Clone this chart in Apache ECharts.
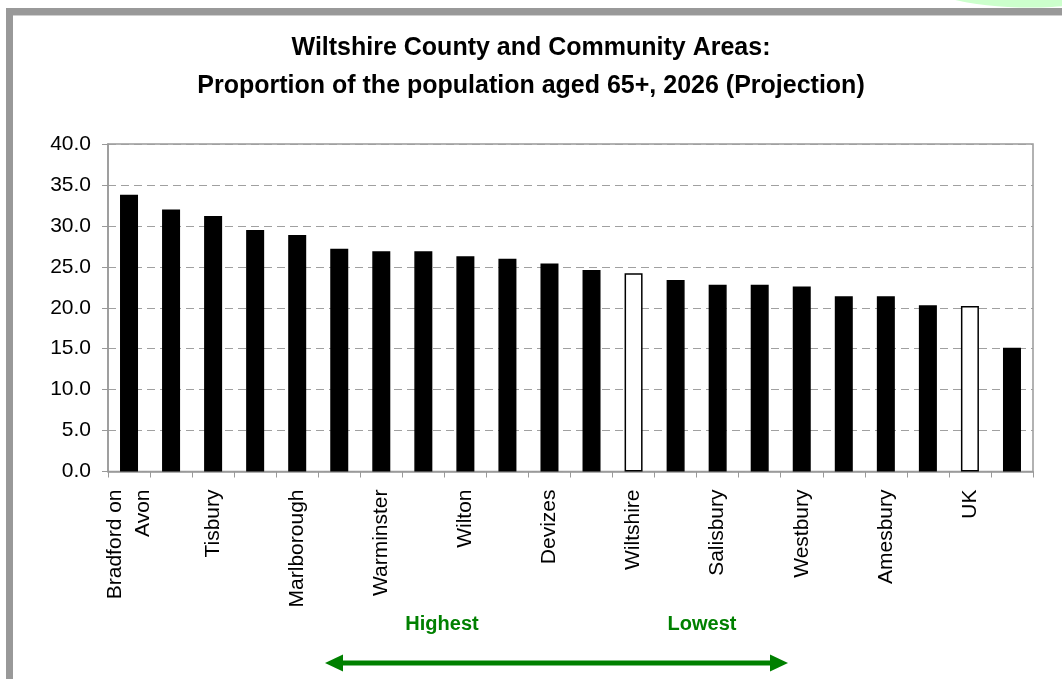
<!DOCTYPE html>
<html>
<head>
<meta charset="utf-8">
<script src="https://cdn.jsdelivr.net/npm/echarts@6/dist/echarts.min.js"></script>
<style>
html,body{margin:0;padding:0;background:#fff;}
#c{width:1062px;height:679px;}
</style>
</head>
<body>
<div id="c"></div>
<script>
// Categories (only every other label is shown in the original; hidden names are best guesses)
var categories = ["Bradford on\nAvon", "Mere", "Tisbury", "Pewsey", "Marlborough", "Southern",
  "Warminster", "Malmesbury", "Wilton", "Corsham", "Devizes", "Cricklade", "Wiltshire",
  "Calne", "Salisbury", "Wootton Bassett", "Westbury", "Melksham", "Amesbury", "Chippenham",
  "UK", "Tidworth"];
var values = [33.8, 32.0, 31.2, 29.5, 28.9, 27.2, 26.9, 26.9, 26.3, 26.0, 25.4, 24.6, 24.2,
  23.4, 22.8, 22.8, 22.6, 21.4, 21.4, 20.3, 20.2, 15.1];
var comparators = ["Wiltshire", "UK"];
var yTicks = [0, 5, 10, 15, 20, 25, 30, 35, 40];

var chart = echarts.init(document.getElementById('c'), null, {renderer: 'canvas'});
var FONT = "'Liberation Sans', Arial, sans-serif";
var GREEN = '#008000';

chart.setOption({
  animation: false,
  backgroundColor: '#ffffff',
  title: {
    text: 'Wiltshire County and Community Areas:\nProportion of the population aged 65+, 2026 (Projection)',
    left: 'center',
    top: 24,
    textStyle: {fontFamily: FONT, fontWeight: 'bold', fontSize: 25, lineHeight: 38, color: '#000'}
  },
  grid: {
    left: 108, top: 144, width: 925, height: 327.5,
    show: true, borderColor: '#999', borderWidth: 1.5, backgroundColor: 'transparent'
  },
  xAxis: {
    type: 'category',
    data: categories,
    boundaryGap: true,
    axisLine: {lineStyle: {color: '#999', width: 1.5}},
    axisTick: {show: true, interval: 0, length: 6, lineStyle: {color: '#999', width: 1}},
    axisLabel: {
      interval: 1, rotate: 90, margin: 18,
      fontFamily: FONT, fontSize: 21, lineHeight: 28, color: '#000'
    },
    splitLine: {show: false}
  },
  yAxis: {
    type: 'value',
    min: yTicks[0], max: yTicks[yTicks.length - 1], interval: yTicks[1] - yTicks[0],
    axisLine: {show: true, lineStyle: {color: '#999', width: 1.5}},
    axisTick: {show: true, length: 6, lineStyle: {color: '#999'}},
    axisLabel: {
      margin: 17, fontFamily: FONT, fontSize: 21, color: '#000',
      formatter: function (v) { return v.toFixed(1); }
    },
    splitLine: {show: true, lineStyle: {color: '#a0a0a0', type: [8, 5], width: 1}}
  },
  series: [{
    type: 'bar',
    data: values,
    barWidth: 18,
    itemStyle: {
      color: function (p) { return comparators.indexOf(p.name) >= 0 ? '#ffffff' : '#000000'; },
      borderColor: '#000',
      borderWidth: 1.5
    },
    emphasis: {disabled: true}
  }],
  graphic: [
    {type: 'circle', shape: {cx: 0, cy: 0, r: 1}, x: 1030, y: -22.5, scaleX: 113, scaleY: 30,
      style: {fill: '#ccffcc'}, z: 0},
    {type: 'rect', shape: {x: 6, y: 8, width: 1060, height: 7}, style: {fill: '#999999'}, z: 1},
    {type: 'rect', shape: {x: 6, y: 15, width: 1060, height: 1}, style: {fill: '#cfcfcf'}, z: 1},
    {type: 'rect', shape: {x: 6, y: 8, width: 7, height: 680}, style: {fill: '#999999'}, z: 1},
    {type: 'text', x: 442, y: 624, style: {text: 'Highest', fill: GREEN, font: 'bold 20px ' + FONT,
      textAlign: 'center', textVerticalAlign: 'middle'}},
    {type: 'text', x: 702, y: 624, style: {text: 'Lowest', fill: GREEN, font: 'bold 20px ' + FONT,
      textAlign: 'center', textVerticalAlign: 'middle'}},
    {type: 'line', shape: {x1: 338, y1: 663, x2: 775, y2: 663}, style: {stroke: GREEN, lineWidth: 5}},
    {type: 'polygon', shape: {points: [[325, 663], [343, 654.5], [343, 671.5]]}, style: {fill: GREEN}},
    {type: 'polygon', shape: {points: [[788, 663], [770, 654.5], [770, 671.5]]}, style: {fill: GREEN}}
  ]
});
</script>
</body>
</html>
